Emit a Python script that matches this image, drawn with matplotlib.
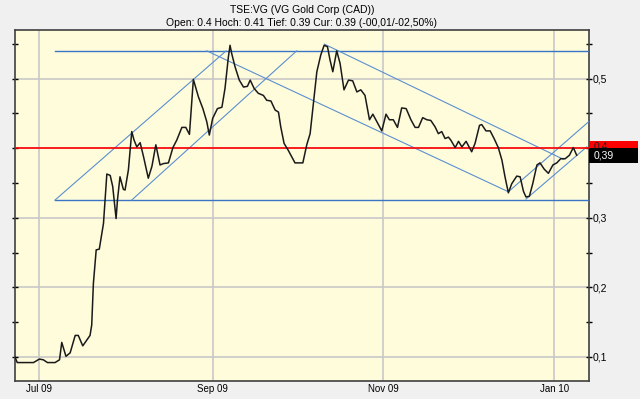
import datetime as dt
import matplotlib
matplotlib.use("Agg")
import matplotlib.pyplot as plt
from matplotlib.patches import Rectangle

plt.rcParams['font.family'] = ['Liberation Sans', 'DejaVu Sans']

base = dt.date(2009, 7, 1)

# Kursverlauf: Tage seit 1. Juli 2009, Schlusskurs (CAD)
days = [-8.6, -7.8, -2.0, 0.1, 1.5, 3.0, 5.7, 7.3, 8.1, 9.6, 11.1, 12.9, 14.0, 15.6,
        18.2, 18.8, 19.4, 20.4, 21.5, 23.0, 24.2, 25.4, 26.3, 27.3, 27.5, 28.0, 28.9,
        30.1, 30.7, 31.9, 33.1, 33.9, 34.9, 36.1, 37.3, 39.0, 40.3, 41.7, 43.2, 44.4,
        46.2, 47.8, 49.2, 51.0, 52.4, 53.7, 55.1, 56.9, 58.5, 59.9, 60.8, 62.0, 63.7,
        65.3, 66.4, 67.6, 68.2, 68.8, 70.0, 71.5, 73.0, 74.4, 75.4, 76.8, 78.3, 80.1,
        81.3, 82.8, 84.3, 85.5, 86.3, 87.5, 89.0, 91.4, 94.2, 95.6, 96.8, 98.0, 99.2,
        100.6, 101.8, 103.0, 103.9, 104.9, 106.3, 107.5, 108.9, 110.5, 112.0, 113.5,
        114.9, 116.4, 118.0, 119.2, 120.8, 122.4, 123.9, 125.1, 126.5, 128.0, 129.5,
        131.1, 132.8, 134.3, 135.5, 137.0, 138.5, 139.9, 141.4, 142.6, 143.8, 145.0,
        146.2, 147.0, 148.6, 149.8, 151.0, 152.5, 154.5, 155.7, 157.3, 158.1, 159.6,
        161.1, 162.5, 164.0, 165.3, 166.4, 167.6, 168.8, 170.6, 171.8, 173.0, 173.9,
        175.1, 176.3, 177.8, 178.9, 180.4, 181.9, 183.5, 184.9, 186.3, 187.9, 189.4,
        190.8, 192.0]
prices = [0.100, 0.092, 0.092, 0.097, 0.096, 0.092, 0.092, 0.096, 0.121, 0.101, 0.106,
          0.131, 0.131, 0.116, 0.131, 0.146, 0.206, 0.254, 0.255, 0.292, 0.363, 0.361,
          0.345, 0.307, 0.299, 0.326, 0.359, 0.341, 0.340, 0.369, 0.424, 0.412, 0.402,
          0.408, 0.388, 0.357, 0.374, 0.405, 0.376, 0.378, 0.379, 0.401, 0.412, 0.430,
          0.430, 0.420, 0.499, 0.474, 0.457, 0.438, 0.419, 0.443, 0.457, 0.459, 0.486,
          0.531, 0.548, 0.536, 0.517, 0.498, 0.488, 0.489, 0.498, 0.486, 0.479, 0.476,
          0.469, 0.468, 0.455, 0.452, 0.431, 0.407, 0.397, 0.379, 0.379, 0.405, 0.421,
          0.465, 0.510, 0.534, 0.548, 0.546, 0.527, 0.510, 0.540, 0.522, 0.484, 0.498,
          0.497, 0.481, 0.484, 0.476, 0.441, 0.449, 0.437, 0.425, 0.449, 0.441, 0.441,
          0.430, 0.458, 0.457, 0.441, 0.430, 0.430, 0.444, 0.441, 0.440, 0.431, 0.421,
          0.424, 0.414, 0.416, 0.412, 0.401, 0.410, 0.402, 0.410, 0.395, 0.407, 0.433,
          0.434, 0.425, 0.425, 0.414, 0.401, 0.383, 0.359, 0.336, 0.349, 0.360, 0.359,
          0.338, 0.330, 0.331, 0.349, 0.376, 0.379, 0.370, 0.364, 0.376, 0.379, 0.385,
          0.385, 0.390, 0.401, 0.390]

# Trendlinien: (Tag1, Kurs1, Tag2, Kurs2)
support_resist = [(5.7, 0.540, 196.1, 0.540), (5.7, 0.3256, 196.1, 0.3256)]
channels = [
    (5.7, 0.3256, 66.8, 0.540),
    (33.1, 0.3256, 92.0, 0.540),
    (59.9, 0.540, 167.6, 0.3375),
    (101.9, 0.5497, 187.3, 0.384),
    (167.6, 0.3375, 196.8, 0.440),
    (173.9, 0.327, 195.6, 0.402),
]
open_level = 0.4
cur_level = 0.39

month_starts = [dt.date(2009, 7, 1), dt.date(2009, 9, 1), dt.date(2009, 11, 1), dt.date(2010, 1, 1)]
month_labels = ["Jul 09", "Sep 09", "Nov 09", "Jan 10"]
y_ticks = [0.1, 0.2, 0.3, 0.4, 0.5]
y_labels = ["0,1", "0,2", "0,3", "0,4", "0,5"]

fig = plt.figure(figsize=(6.4, 3.99), dpi=100, facecolor="#f0f0f0")
ax = fig.add_axes([15 / 640, 1 - 381 / 399, 574 / 640, 351 / 399])
ax.set_facecolor("#fffcdc")

ax.set_xlim(-8.6, 196.4)
ax.set_ylim(0.0655, 0.570)

tick_pos = [(d - base).days for d in month_starts]
ax.set_xticks(tick_pos)
ax.set_xticklabels(month_labels, fontsize=7)
ax.set_yticks(y_ticks)
ax.set_yticklabels(y_labels, fontsize=7.5)
ax.set_yticks([0.15, 0.25, 0.35, 0.45, 0.55], minor=True)
ax.yaxis.tick_right()
ax.tick_params(axis="y", which="both", direction="inout", length=5, width=1,
               left=True, right=True, pad=0)
ax.tick_params(axis="x", length=0, pad=2)
ax.grid(True, color="#c8c8c8", linewidth=1.2)
ax.set_axisbelow(True)
for sp in ax.spines.values():
    sp.set_color("#404040")
    sp.set_linewidth(1.2)

for x1, y1, x2, y2 in support_resist:
    ax.plot([x1, x2], [y1, y2], color="#3a74c4", lw=1.0, zorder=3)
for x1, y1, x2, y2 in channels:
    ax.plot([x1, x2], [y1, y2], color="#5b8fd0", lw=0.8, zorder=3)

ax.axhline(open_level, color="#ff0000", lw=1.2, zorder=3)
ax.plot(days, prices, color="#1a1a1a", lw=1.1, zorder=4)

# Kursmarken am rechten Rand
tr = ax.get_yaxis_transform()
ax.add_patch(Rectangle((1.0, open_level - 0.01), 0.085, 0.021, transform=tr,
                       facecolor="#ff0000", edgecolor="none", clip_on=False, zorder=5))
ax.text(1.008, open_level + 0.002, "0,4", transform=tr, fontsize=7.5, va="center",
        color="#202020", clip_on=False, zorder=6)
ax.add_patch(Rectangle((1.0, cur_level - 0.0105), 0.085, 0.0205, transform=tr,
                       facecolor="#000000", edgecolor="none", clip_on=False, zorder=7))
ax.text(1.008, cur_level - 0.0005, "0,39", transform=tr, fontsize=7.5, va="center",
        color="white", clip_on=False, zorder=8)

fig.text(302 / 640, 1 - 10 / 399, "TSE:VG (VG Gold Corp (CAD))", ha="center",
         va="center", fontsize=7.5)
fig.text(302 / 640, 1 - 23 / 399,
         "Open: 0.4 Hoch: 0.41 Tief: 0.39 Cur: 0.39 (-00,01/-02,50%)",
         ha="center", va="center", fontsize=7.5)

fig.savefig("out.png", dpi=100, facecolor=fig.get_facecolor())
